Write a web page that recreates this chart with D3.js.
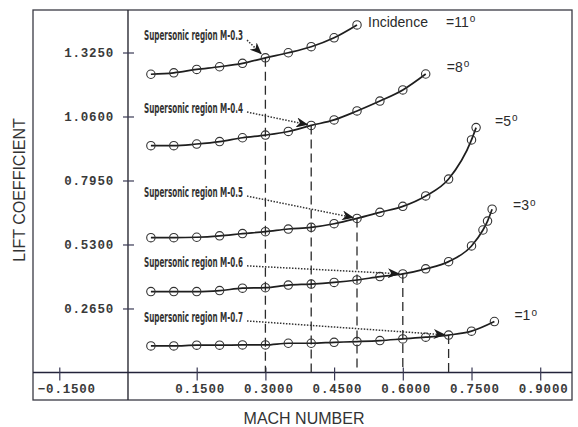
<!DOCTYPE html>
<html>
<head>
<meta charset="utf-8">
<script src="https://cdn.jsdelivr.net/npm/d3@7"></script>
<style>
  html, body { margin: 0; padding: 0; background: #fff; }
  svg { display: block; }
</style>
</head>
<body>
<svg id="chart" width="578" height="427"></svg>
<script>
// Lift coefficient vs. Mach number for several angles of incidence
const incidences = ["11", "8", "5", "3", "1"];

const mach11 = [0.05, 0.10, 0.15, 0.20, 0.25, 0.30, 0.35, 0.40, 0.45, 0.50];
const cl11   = [1.235, 1.241, 1.255, 1.266, 1.280, 1.303, 1.324, 1.349, 1.386, 1.439];

const mach8 = [0.05, 0.10, 0.15, 0.20, 0.25, 0.30, 0.35, 0.40, 0.45, 0.50, 0.55, 0.60, 0.65];
const cl8   = [0.939, 0.939, 0.946, 0.956, 0.972, 0.983, 0.998, 1.023, 1.046, 1.083, 1.124, 1.170, 1.236];

const mach5 = [0.05, 0.10, 0.15, 0.20, 0.25, 0.30, 0.35, 0.40, 0.45, 0.50, 0.55, 0.60, 0.65, 0.70, 0.75, 0.76];
const cl5   = [0.558, 0.558, 0.560, 0.566, 0.575, 0.583, 0.594, 0.601, 0.616, 0.638, 0.663, 0.688, 0.731, 0.801, 0.963, 1.014];

const mach3 = [0.05, 0.10, 0.15, 0.20, 0.25, 0.30, 0.35, 0.40, 0.45, 0.50, 0.55, 0.60, 0.65, 0.70, 0.75, 0.775, 0.785, 0.795];
const cl3   = [0.335, 0.335, 0.335, 0.339, 0.349, 0.351, 0.362, 0.366, 0.373, 0.383, 0.397, 0.408, 0.429, 0.459, 0.524, 0.590, 0.627, 0.676];

const mach1 = [0.05, 0.10, 0.15, 0.20, 0.25, 0.30, 0.35, 0.40, 0.45, 0.50, 0.55, 0.60, 0.65, 0.70, 0.75, 0.80];
const cl1   = [0.110, 0.110, 0.113, 0.113, 0.114, 0.114, 0.121, 0.121, 0.125, 0.128, 0.132, 0.139, 0.146, 0.155, 0.171, 0.211];

// Supersonic-region onset Mach for each curve (same order as incidences)
const onsetMach = [0.3, 0.4, 0.5, 0.6, 0.7];
const onsetText = ["Supersonic region M-0.3", "Supersonic region M-0.4", "Supersonic region M-0.5",
                   "Supersonic region M-0.6", "Supersonic region M-0.7"];

const xTicks = [-0.15, 0.15, 0.30, 0.45, 0.60, 0.75, 0.90];
const yTicks = [0.265, 0.530, 0.795, 1.060, 1.325];

const series = [
  { inc: incidences[0], pts: mach11.map((m, i) => [m, cl11[i]]) },
  { inc: incidences[1], pts: mach8.map((m, i) => [m, cl8[i]]) },
  { inc: incidences[2], pts: mach5.map((m, i) => [m, cl5[i]]) },
  { inc: incidences[3], pts: mach3.map((m, i) => [m, cl3[i]]) },
  { inc: incidences[4], pts: mach1.map((m, i) => [m, cl1[i]]) }
];

const svg = d3.select("#chart");
const frame = { left: 33, top: 10, right: 572, bottom: 400 };

const x = d3.scaleLinear().domain([-0.2074, 0.9694]).range([frame.left, frame.right]);
const y = d3.scaleLinear().domain([-0.114, 1.501]).range([frame.bottom, frame.top]);

const ink = "#2b2b2b";

// outer frame and the two zero axes
svg.append("rect")
  .attr("x", frame.left).attr("y", frame.top)
  .attr("width", frame.right - frame.left).attr("height", frame.bottom - frame.top)
  .attr("fill", "none").attr("stroke", "#3a3a44").attr("stroke-width", 1.3);

svg.append("line")
  .attr("x1", x(0)).attr("x2", x(0)).attr("y1", frame.top).attr("y2", frame.bottom)
  .attr("stroke", "#2a2a33").attr("stroke-width", 1.4);
svg.append("line")
  .attr("x1", frame.left).attr("x2", frame.right).attr("y1", y(0)).attr("y2", y(0))
  .attr("stroke", "#23233a").attr("stroke-width", 1.4);

const tickFont = "'Liberation Mono', 'DejaVu Sans Mono', monospace";

// y axis ticks (crossing the axis line)
const yAxis = svg.append("g")
  .attr("transform", `translate(${x(0)},0)`)
  .call(d3.axisLeft(y).tickValues(yTicks).tickFormat(d3.format(".4f")).tickSize(5).tickPadding(9));
yAxis.select(".domain").remove();
yAxis.selectAll(".tick line").attr("x1", 6).attr("x2", -5).attr("stroke", "#3a3a55").attr("stroke-width", 1.2);
yAxis.selectAll(".tick text")
  .attr("font-family", tickFont).attr("font-weight", "bold").attr("font-size", 12.5)
  .attr("letter-spacing", 0.8).attr("fill", "#3a3a3a");

// x axis ticks, labels start a little left of each tick
const xAxis = svg.append("g")
  .attr("transform", `translate(0,${y(0)})`)
  .call(d3.axisBottom(x).tickValues(xTicks).tickFormat(d3.format(".4f")).tickSize(8));
xAxis.select(".domain").remove();
xAxis.selectAll(".tick line").attr("y1", -5).attr("y2", 8).attr("stroke", "#3a3a55").attr("stroke-width", 1.2);
xAxis.selectAll(".tick text")
  .attr("text-anchor", "start").attr("x", -22).attr("y", 16).attr("dy", "0.35em")
  .attr("font-family", tickFont).attr("font-weight", "bold").attr("font-size", 12.5)
  .attr("letter-spacing", 0.8).attr("fill", "#3a3a3a");

// axis titles
svg.append("text")
  .attr("transform", `translate(19,190) rotate(-90)`)
  .attr("text-anchor", "middle").attr("dy", "0.35em")
  .attr("font-family", "'Liberation Sans', Arial, sans-serif").attr("font-size", 16)
  .attr("fill", "#333").text("LIFT COEFFICIENT");
svg.append("text")
  .attr("x", 304).attr("y", 418).attr("text-anchor", "middle").attr("dy", "0.35em")
  .attr("font-family", "'Liberation Sans', Arial, sans-serif").attr("font-size", 16)
  .attr("fill", "#333").text("MACH NUMBER");

// dashed verticals from each onset point down to the Mach axis
series.forEach((s, i) => {
  const m = onsetMach[i];
  const p = s.pts.find(d => Math.abs(d[0] - m) < 1e-9);
  svg.append("line")
    .attr("x1", x(m)).attr("x2", x(m)).attr("y1", y(p[1])).attr("y2", y(0))
    .attr("stroke", ink).attr("stroke-width", 1.3).attr("stroke-dasharray", "9,5");
});

// curves with open-circle markers
const line = d3.line().x(d => x(d[0])).y(d => y(d[1])).curve(d3.curveMonotoneX);
series.forEach(s => {
  svg.append("path").attr("d", line(s.pts))
    .attr("fill", "none").attr("stroke", "#1e1e1e").attr("stroke-width", 1.7);
  svg.append("g").selectAll("circle").data(s.pts).join("circle")
    .attr("cx", d => x(d[0])).attr("cy", d => y(d[1])).attr("r", 4.2)
    .attr("fill", "none").attr("stroke", "#333").attr("stroke-width", 1.1);
});

// arrowhead marker for the onset annotations
svg.append("defs").append("marker")
  .attr("id", "head").attr("viewBox", "0 0 12 10")
  .attr("refX", 11).attr("refY", 5).attr("markerWidth", 12).attr("markerHeight", 10)
  .attr("markerUnits", "userSpaceOnUse").attr("orient", "auto")
  .append("path").attr("d", "M0,0 L12,5 L0,10 L3.5,5 Z").attr("fill", "#1a1a1a");

// onset annotation text (vertical placement as CL value of the text row)
const noteCL = [1.397, 1.095, 0.747, 0.458, 0.230];
const noteStart = x(0.035);
series.forEach((s, i) => {
  const ty = y(noteCL[i]);
  svg.append("text")
    .attr("x", noteStart).attr("y", ty).attr("dy", "0.36em")
    .attr("textLength", 99).attr("lengthAdjust", "spacingAndGlyphs")
    .attr("font-family", "'Liberation Sans Narrow', 'DejaVu Sans Condensed', 'Arial Narrow', sans-serif")
    .attr("font-weight", "bold").attr("font-size", 14).attr("fill", "#333")
    .text(onsetText[i]);

  const m = onsetMach[i];
  const p = s.pts.find(d => Math.abs(d[0] - m) < 1e-9);
  const x0 = noteStart + 103, y0 = ty + (i === 0 ? 5 : 4);
  const x1 = x(m), y1 = y(p[1]);
  const len = Math.hypot(x1 - x0, y1 - y0);
  const back = i === 0 ? 6 : 4;
  svg.append("line")
    .attr("x1", x0).attr("y1", y0)
    .attr("x2", x1 - (x1 - x0) / len * back).attr("y2", y1 - (y1 - y0) / len * back)
    .attr("stroke", "#333").attr("stroke-width", 1.5).attr("stroke-dasharray", "1.5,1.5")
    .attr("marker-end", "url(#head)");
});

// incidence labels beside the curve ends
const labelFont = "'Liberation Sans', Arial, sans-serif";
const labelOffset = [[89, -3], [21, -7], [19, -7], [21, -4], [20, -6]];
series.forEach((s, i) => {
  const last = s.pts[s.pts.length - 1];
  const t = svg.append("text")
    .attr("x", x(last[0]) + labelOffset[i][0]).attr("y", y(last[1]) + labelOffset[i][1]).attr("dy", "0.35em")
    .attr("font-family", labelFont).attr("font-size", 14).attr("fill", "#2a2a2a");
  t.append("tspan").text("=" + s.inc);
  t.append("tspan").attr("font-size", 10).attr("dy", "-0.45em").attr("dx", 1).text("o");
});
const lastTop = series[0].pts[series[0].pts.length - 1];
svg.append("text")
  .attr("x", x(lastTop[0]) + 11).attr("y", y(lastTop[1]) - 3).attr("dy", "0.35em")
  .attr("font-family", labelFont).attr("font-size", 14).attr("fill", "#2a2a2a")
  .text("Incidence");
</script>
</body>
</html>
